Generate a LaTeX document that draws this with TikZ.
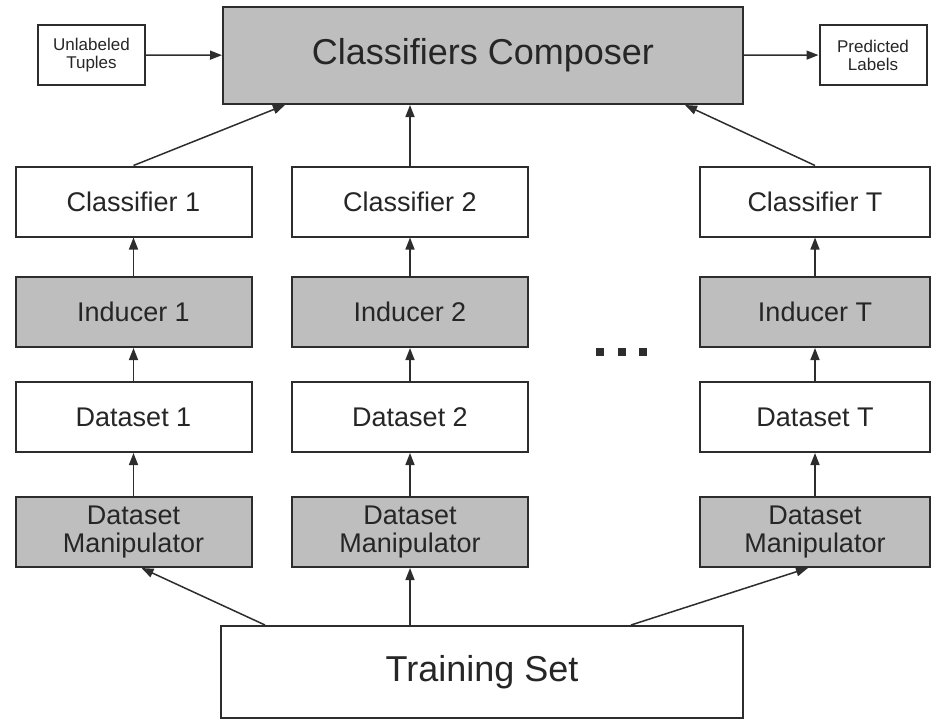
\documentclass[tikz,border=0pt]{standalone}
\usepackage{fontspec}
\setmainfont{Liberation Sans}
\usetikzlibrary{arrows.meta}
\definecolor{boxgray}{RGB}{190,190,190}
\definecolor{edgegray}{RGB}{45,45,45}
\tikzset{
  box/.style={draw=edgegray, line width=2pt, fill=white, text=black!85,
    minimum width=236pt, minimum height=70pt, inner sep=0pt, align=center,
    font=\fontsize{27}{28}\selectfont},
  graybox/.style={box, fill=boxgray},
  smallbox/.style={box, minimum width=107pt, minimum height=60pt,
    font=\fontsize{17}{18}\selectfont},
  >={Triangle[length=12pt,width=9pt]},
  link/.style={->, draw=edgegray, line width=1.5pt}
}
\begin{document}
\begin{tikzpicture}[x=1pt,y=-1pt]
  \useasboundingbox (0,0) rectangle (931,720);
  \node[graybox, minimum width=520pt, minimum height=97pt,
    font=\fontsize{36}{40}\selectfont] (comp) at (483,55.5) {Classifiers Composer};
  \node[smallbox] (unl) at (91.5,55) {Unlabeled\\Tuples};
  \node[smallbox] (pred) at (873,55) {Predicted\\Labels};
  \draw[link] (unl) -- (comp);
  \draw[link] (comp) -- (pred);
  % one column per classifier
  \foreach \c/\x/\w in {1/133.5/236, 2/410/236, T/815/230} {
    \node[box, minimum width=\w pt] (cls\c) at (\x,201.5) {Classifier \c};
    \node[graybox, minimum width=\w pt] (ind\c) at (\x,312) {Inducer \c};
    \node[box, minimum width=\w pt] (ds\c) at (\x,417) {Dataset \c};
    \node[graybox, minimum width=\w pt] (man\c) at (\x,532) {Dataset\\Manipulator};
    \draw[link] (man\c) -- (ds\c);
    \draw[link] (ds\c) -- (ind\c);
    \draw[link] (ind\c) -- (cls\c);
  }
  \draw[link] (cls1.north) -- ([xshift=-198pt]comp.south);
  \draw[link] (cls2.north) -- (cls2.north |- comp.south);
  \draw[link] (clsT.north) -- ([xshift=202pt]comp.south);
  \foreach \d in {600,622,643}
    \fill[edgegray] ({\d-4},348) rectangle ({\d+4},356);
  \node[box, minimum width=522pt, minimum height=92pt,
    font=\fontsize{36}{40}\selectfont] (train) at (482,672) {Training Set};
  \draw[link] ([xshift=-217pt]train.north) -- ([xshift=8pt]man1.south);
  \draw[link] (man2.south |- train.north) -- (man2.south);
  \draw[link] ([xshift=149pt]train.north) -- ([xshift=-7pt]manT.south);
\end{tikzpicture}
\end{document}
